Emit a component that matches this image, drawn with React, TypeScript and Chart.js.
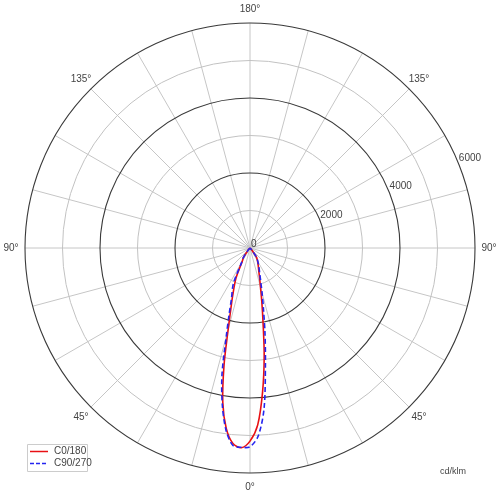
import React, { useEffect, useRef } from 'react';
import { Chart, registerables } from 'chart.js';

Chart.register(...registerables);

// Gamma angles (degrees from nadir) and intensities (cd/klm)
const GAMMA = [0, 2.5, 5, 7.5, 10, 12.5, 15, 17.5, 20, 25, 30, 35, 40, 45, 90];
const C0 = [5150, 4720, 3850, 2900, 2000, 1450, 1080, 860, 700, 520, 400, 300, 80, 20, 0];
const C180 = [5150, 5330, 5230, 4850, 4180, 3200, 2250, 1700, 1350, 880, 420, 300, 80, 20, 0];
const C90 = [5300, 5020, 4300, 3150, 2300, 1650, 1250, 960, 780, 560, 420, 310, 90, 20, 0];
const C270 = [5300, 5320, 5280, 4900, 4250, 3450, 2450, 1850, 1450, 1050, 450, 310, 90, 20, 0];

const SERIES_NAMES = ['C0/180', 'C90/270'];
const RADIAL_TICKS = [0, 2000, 4000, 6000];
const MINOR_RINGS = [1000, 3000, 5000];
const MAJOR_RINGS = [2000, 4000, 6000];
const R_MAX = 6000;
const ANGLE_LABELS = [
  { phi: 0, text: '0°' },
  { phi: 45, text: '45°' },
  { phi: -45, text: '45°' },
  { phi: 90, text: '90°' },
  { phi: -90, text: '90°' },
  { phi: 135, text: '135°' },
  { phi: -135, text: '135°' },
  { phi: 180, text: '180°' },
];
const UNIT_LABEL = 'cd/klm';

const FONT = '"Liberation Sans", Arial, Helvetica, sans-serif';

function toXY(right: number[], left: number[]) {
  const pts: { x: number; y: number }[] = [];
  for (let i = GAMMA.length - 1; i >= 0; i--) {
    const g = (GAMMA[i] * Math.PI) / 180;
    pts.push({ x: -left[i] * Math.sin(g), y: -left[i] * Math.cos(g) });
  }
  for (let i = 1; i < GAMMA.length; i++) {
    const g = (GAMMA[i] * Math.PI) / 180;
    pts.push({ x: right[i] * Math.sin(g), y: -right[i] * Math.cos(g) });
  }
  return pts;
}

const RED = 'rgb(232, 16, 20)';
const BLUE = 'rgb(36, 36, 240)';

const polarGrid = {
  id: 'polarGrid',
  beforeDatasetsDraw(chart: any) {
    const { ctx, scales } = chart;
    const xs = scales.x;
    const ys = scales.y;
    const cx = xs.getPixelForValue(0);
    const cy = ys.getPixelForValue(0);
    const rad = (v: number) => xs.getPixelForValue(v) - cx;
    const R = rad(R_MAX);
    ctx.save();
    // spokes
    ctx.strokeStyle = '#c6c6c6';
    ctx.lineWidth = 1;
    for (let a = 0; a < 360; a += 15) {
      const t = (a * Math.PI) / 180;
      ctx.beginPath();
      ctx.moveTo(cx, cy);
      ctx.lineTo(cx + R * Math.sin(t), cy + R * Math.cos(t));
      ctx.stroke();
    }
    // minor rings
    MINOR_RINGS.forEach((v) => {
      ctx.beginPath();
      ctx.arc(cx, cy, rad(v), 0, Math.PI * 2);
      ctx.strokeStyle = '#c2c2c2';
      ctx.lineWidth = 1;
      ctx.stroke();
    });
    // major rings
    MAJOR_RINGS.forEach((v) => {
      ctx.beginPath();
      ctx.arc(cx, cy, rad(v), 0, Math.PI * 2);
      ctx.strokeStyle = '#3a3a3a';
      ctx.lineWidth = 1.1;
      ctx.stroke();
    });
    // radial tick labels
    ctx.fillStyle = '#444';
    ctx.font = `10px ${FONT}`;
    ctx.textAlign = 'left';
    ctx.textBaseline = 'bottom';
    const ta = (22.5 * Math.PI) / 180;
    RADIAL_TICKS.forEach((v) => {
      const r = rad(v);
      ctx.fillText(String(v), cx + r * Math.cos(ta) + 1, cy - r * Math.sin(ta) + 1);
    });
    // angle labels
    ctx.textAlign = 'center';
    ctx.textBaseline = 'middle';
    ANGLE_LABELS.forEach((l) => {
      const t = (l.phi * Math.PI) / 180;
      const rr = R + 14;
      ctx.fillText(l.text, cx + rr * Math.sin(t), cy + rr * Math.cos(t));
    });
    ctx.restore();
  },
  afterDatasetsDraw(chart: any) {
    const { ctx } = chart;
    ctx.save();
    // legend box
    const bx = 27.5, by = 444.5, bw = 60, bh = 27;
    ctx.fillStyle = 'rgba(255,255,255,0.9)';
    ctx.strokeStyle = '#cccccc';
    ctx.lineWidth = 1;
    ctx.beginPath();
    ctx.rect(bx, by, bw, bh);
    ctx.fill();
    ctx.stroke();
    const items = [
      { color: RED, dash: [] as number[], y: 451.5 },
      { color: BLUE, dash: [4, 2], y: 463.5 },
    ];
    ctx.font = `10px ${FONT}`;
    ctx.textAlign = 'left';
    ctx.textBaseline = 'middle';
    items.forEach((it, i) => {
      ctx.beginPath();
      ctx.setLineDash(it.dash);
      ctx.strokeStyle = it.color;
      ctx.lineWidth = 1.5;
      ctx.moveTo(30, it.y);
      ctx.lineTo(48, it.y);
      ctx.stroke();
      ctx.setLineDash([]);
      ctx.fillStyle = '#444';
      ctx.fillText(SERIES_NAMES[i], 54, it.y);
    });
    // unit label
    ctx.font = `9px ${FONT}`;
    ctx.textAlign = 'center';
    ctx.fillStyle = '#444';
    ctx.fillText(UNIT_LABEL, 453, 472);
    ctx.restore();
  },
};

export default function App() {
  const ref = useRef<HTMLCanvasElement | null>(null);
  useEffect(() => {
    if (!ref.current) return;
    const chart = new Chart(ref.current, {
      type: 'scatter',
      data: {
        datasets: [
          {
            label: SERIES_NAMES[0],
            data: toXY(C0, C180),
            showLine: true,
            borderColor: RED,
            backgroundColor: RED,
            borderWidth: 1.6,
            pointRadius: 0,
            tension: 0.3,
            fill: false,
            order: 2,
          },
          {
            label: SERIES_NAMES[1],
            data: toXY(C90, C270),
            showLine: true,
            borderColor: BLUE,
            backgroundColor: BLUE,
            borderWidth: 1.6,
            borderDash: [5, 3],
            pointRadius: 0,
            tension: 0.3,
            fill: false,
            order: 1,
          },
        ],
      },
      options: {
        animation: false,
        responsive: false,
        maintainAspectRatio: false,
        layout: { padding: { left: 25, right: 25, top: 23, bottom: 23 } },
        scales: {
          x: { type: 'linear', min: -R_MAX, max: R_MAX, display: false },
          y: { type: 'linear', min: -R_MAX, max: R_MAX, display: false },
        },
        plugins: {
          legend: { display: false },
          tooltip: { enabled: false },
        },
      },
      plugins: [polarGrid],
    } as any);
    return () => chart.destroy();
  }, []);
  return (
    <canvas
      ref={ref}
      width={500}
      height={496}
      style={{ position: 'fixed', left: 0, top: 0, width: 500, height: 496, background: '#fff' }}
    />
  );
}
